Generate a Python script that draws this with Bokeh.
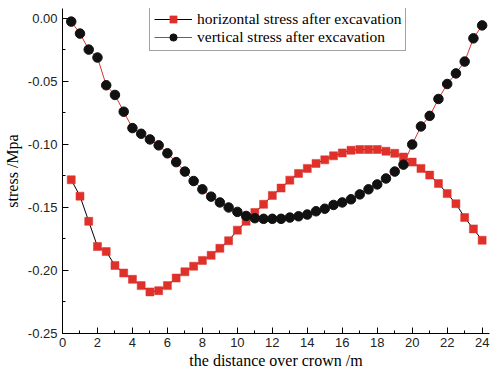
from bokeh.plotting import figure
from bokeh.models import (Range1d, SingleIntervalTicker, NumeralTickFormatter,
                          Legend, LegendItem, ColumnDataSource)
from bokeh.embed import file_html
from bokeh.resources import INLINE

# distance over crown (m)
distance = [0.5, 1.0, 1.5, 2.0, 2.5, 3.0, 3.5, 4.0, 4.5, 5.0, 5.5, 6.0,
            6.5, 7.0, 7.5, 8.0, 8.5, 9.0, 9.5, 10.0, 10.5, 11.0, 11.5, 12.0,
            12.5, 13.0, 13.5, 14.0, 14.5, 15.0, 15.5, 16.0, 16.5, 17.0, 17.5, 18.0,
            18.5, 19.0, 19.5, 20.0, 20.5, 21.0, 21.5, 22.0, 22.5, 23.0, 23.5, 24.0]

horizontal_stress = [-0.128, -0.141, -0.161, -0.181, -0.185, -0.196, -0.202, -0.207,
                     -0.212, -0.217, -0.216, -0.212, -0.206, -0.201, -0.1966, -0.192,
                     -0.188, -0.1824, -0.1764, -0.168, -0.161, -0.154, -0.1475, -0.1404,
                     -0.1346, -0.1283, -0.123, -0.119, -0.115, -0.1122, -0.109, -0.1067,
                     -0.1046, -0.104, -0.104, -0.104, -0.1054, -0.107, -0.110, -0.114,
                     -0.119, -0.1243, -0.131, -0.139, -0.147, -0.158, -0.167, -0.176]

vertical_stress = [-0.0025, -0.012, -0.0247, -0.031, -0.053, -0.0607, -0.074, -0.087,
                   -0.0915, -0.096, -0.1007, -0.107, -0.114, -0.1215, -0.129, -0.1356,
                   -0.1414, -0.146, -0.150, -0.1535, -0.1567, -0.1585, -0.159, -0.159,
                   -0.159, -0.158, -0.157, -0.1556, -0.153, -0.151, -0.148, -0.146,
                   -0.1435, -0.1396, -0.1356, -0.1317, -0.127, -0.1215, -0.116, -0.100,
                   -0.0857, -0.0773, -0.0639, -0.052, -0.0436, -0.0342, -0.0158, -0.0055]

labels = ["horizontal stress after excavation", "vertical stress after excavation"]
x_label = "the distance over crown /m"
y_label = "stress /Mpa"

RED = "#e0302a"
SERIF = "Liberation Serif"
SANS = "Liberation Sans"

p = figure(width=491, height=371, output_backend="svg", toolbar_location=None,
           x_range=Range1d(0, 24.42), y_range=Range1d(-0.25, 0.0079),
           min_border_left=62, min_border_right=2, min_border_top=8,
           min_border_bottom=36)
p.outline_line_color = None
p.xgrid.visible = False
p.ygrid.visible = False
p.background_fill_color = "white"
p.border_fill_color = "white"

src = ColumnDataSource(dict(x=distance, h=horizontal_stress, v=vertical_stress))

lh = p.line("x", "h", source=src, line_color="black", line_width=1)
sh = p.scatter("x", "h", source=src, marker="square", size=8,
               fill_color=RED, line_color=RED, line_alpha=0.5)
lv = p.line("x", "v", source=src, line_color=RED, line_width=1)
sv = p.scatter("x", "v", source=src, marker="circle", size=9.5,
               fill_color="#111111", line_color="#111111")

for ax in (p.xaxis[0], p.yaxis[0]):
    ax.axis_line_color = "black"
    ax.axis_line_width = 1
    ax.major_tick_in = 6
    ax.major_tick_out = 0
    ax.minor_tick_in = 3
    ax.minor_tick_out = 0
    ax.major_tick_line_color = "black"
    ax.minor_tick_line_color = "black"
    ax.major_label_text_font = SANS
    ax.major_label_text_font_size = "13px"
    ax.major_label_text_color = "#222222"
    ax.axis_label_text_font = SERIF
    ax.axis_label_text_font_style = "normal"
    ax.axis_label_text_font_size = "16px"
    ax.axis_label_text_color = "black"

p.xaxis.ticker = SingleIntervalTicker(interval=2, num_minor_ticks=2)
p.yaxis.ticker = SingleIntervalTicker(interval=0.05, num_minor_ticks=2)
p.yaxis.formatter = NumeralTickFormatter(format="0.00")
p.xaxis.major_label_standoff = 4
p.yaxis.major_label_standoff = 5
p.xaxis.axis_label = x_label
p.yaxis.axis_label = y_label
p.xaxis.axis_label_standoff = 2
p.yaxis.axis_label_standoff = 4

legend = Legend(items=[LegendItem(label=labels[0], renderers=[lh, sh]),
                       LegendItem(label=labels[1], renderers=[lv, sv])],
                location=(87, 282))
legend.label_text_font = SERIF
legend.label_text_font_size = "15.5px"
legend.label_text_color = "black"
legend.glyph_width = 38
legend.glyph_height = 18
legend.label_height = 18
legend.label_standoff = 5
legend.spacing = 0
legend.padding = 4
legend.margin = 0
legend.border_line_color = "#444444"
legend.border_line_width = 1.5
legend.background_fill_color = "white"
legend.background_fill_alpha = 1
p.add_layout(legend)

open("out.html", "w").write(file_html(p, INLINE))
